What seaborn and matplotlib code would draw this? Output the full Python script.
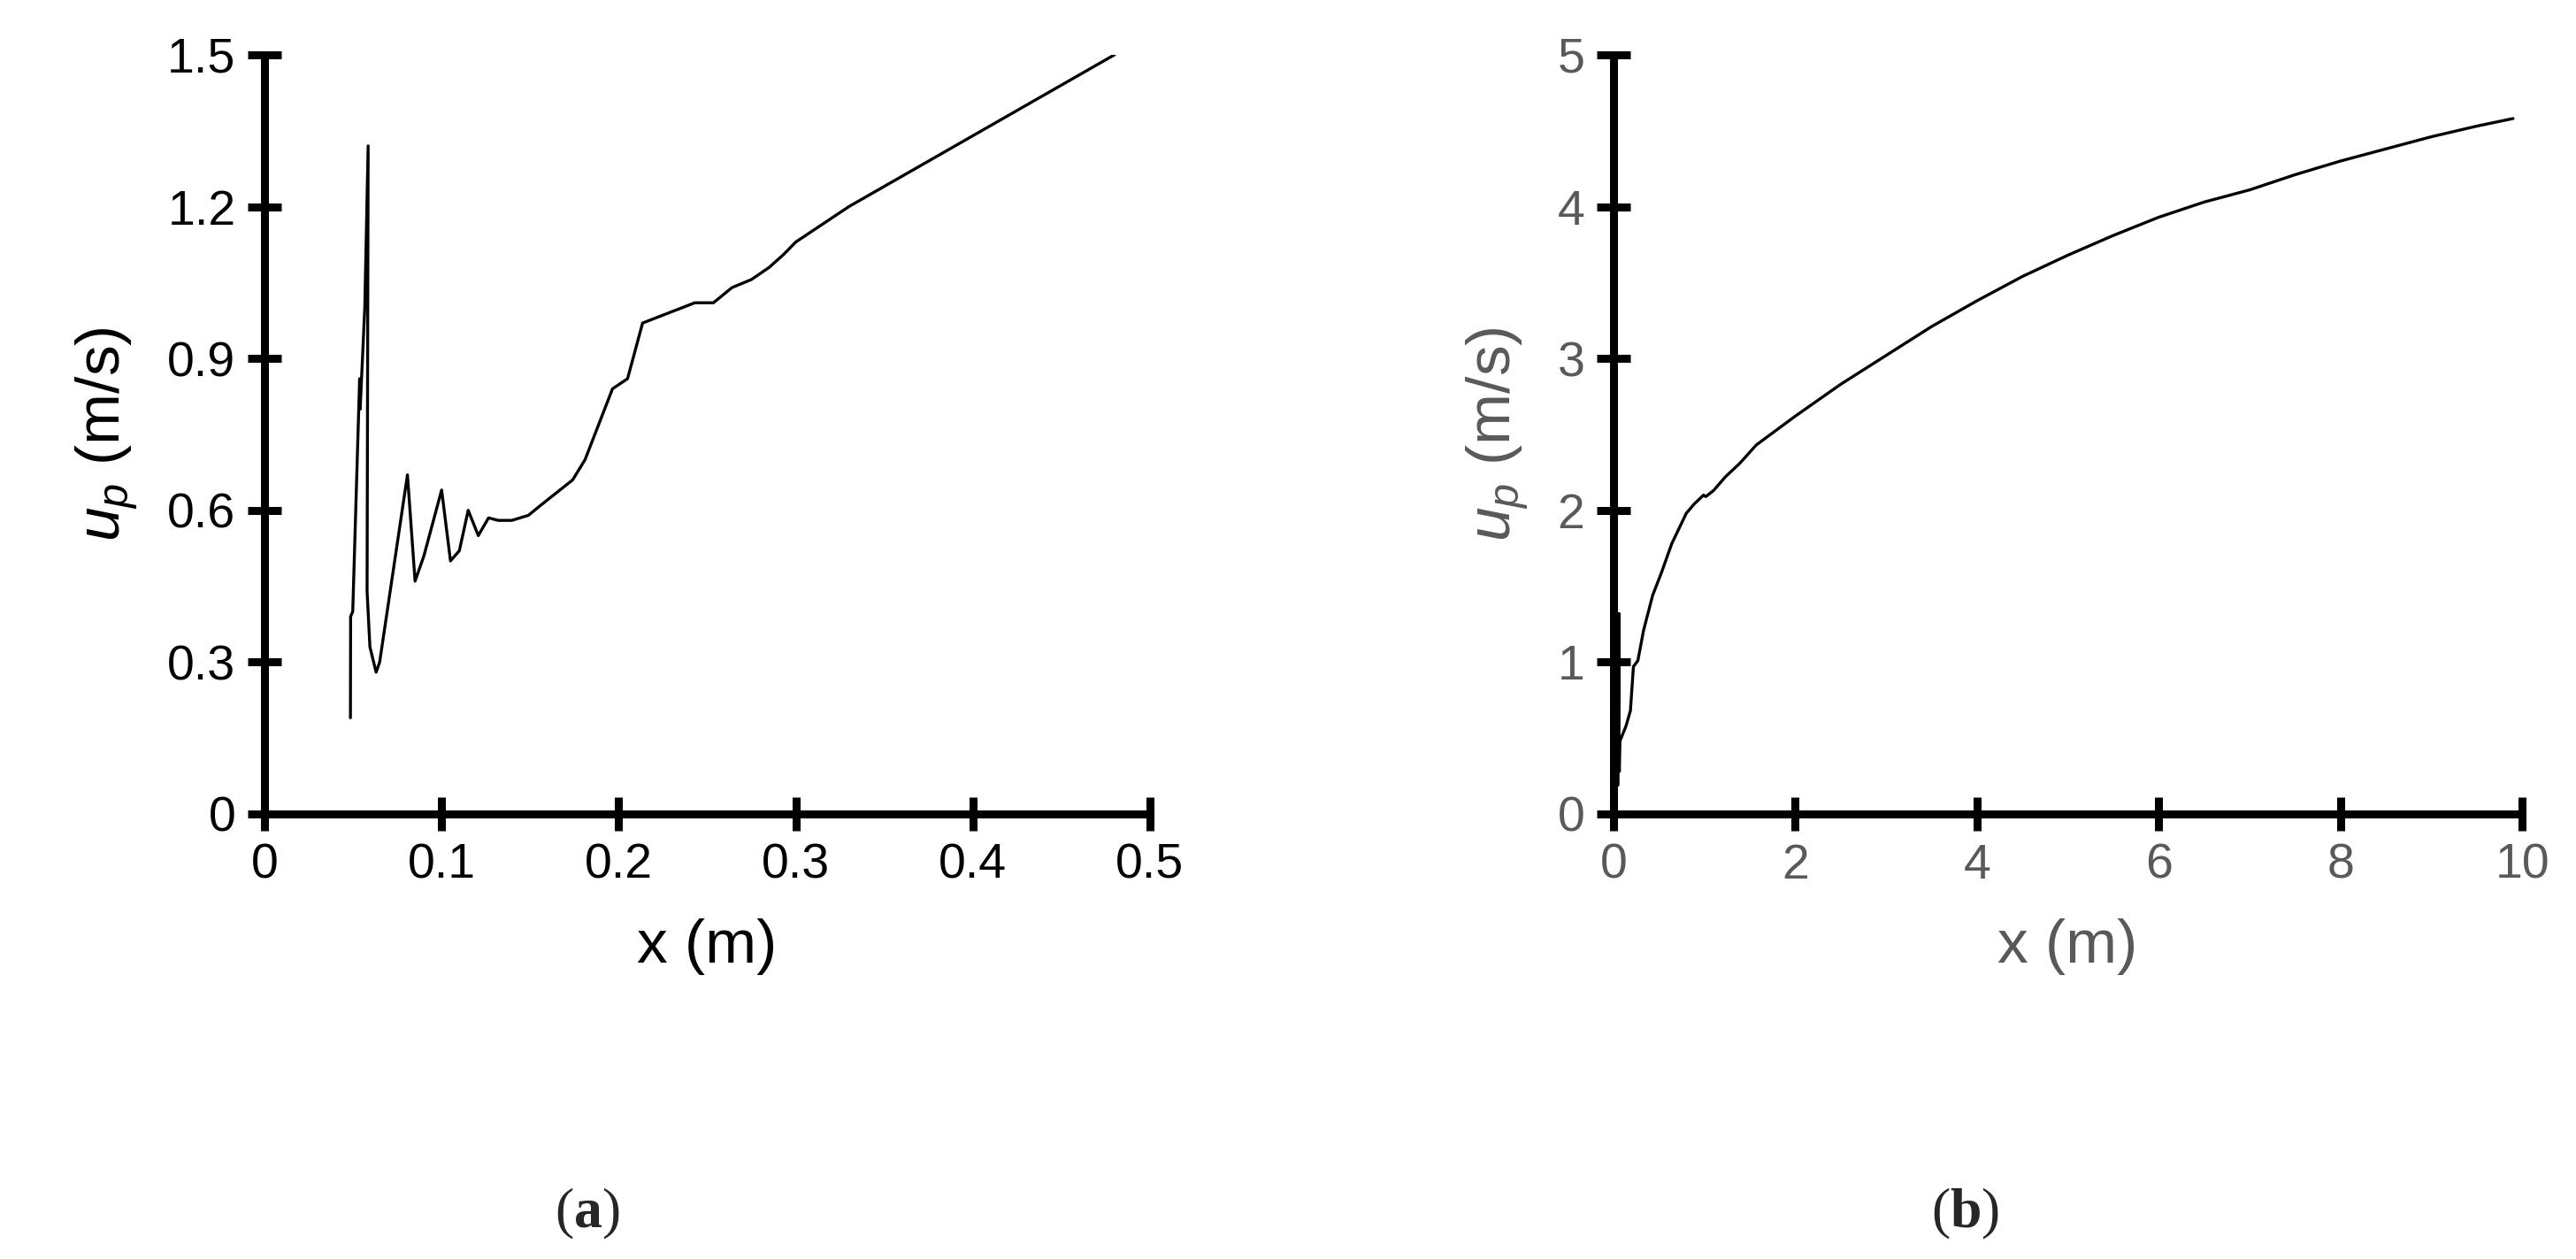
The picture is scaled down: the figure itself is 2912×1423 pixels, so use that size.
import matplotlib
matplotlib.use("Agg")
import matplotlib.pyplot as plt
import seaborn as sns
import pandas as pd

sns.set_theme(style="white")
plt.rcParams['font.family'] = ['Liberation Sans', 'DejaVu Sans']
plt.rcParams['mathtext.fontset'] = 'custom'
plt.rcParams['mathtext.it'] = 'Liberation Sans:italic'
plt.rcParams['mathtext.rm'] = 'Liberation Sans'
plt.rcParams['mathtext.bf'] = 'Liberation Serif:bold'

# panel (a) data
xa = [0.0485, 0.0486, 0.0498, 0.0537, 0.0540, 0.0566, 0.0585, 0.0579, 0.0595, 0.063, 0.065,
      0.0807, 0.085, 0.090, 0.100, 0.105, 0.110, 0.115, 0.1207, 0.1265, 0.132, 0.1396, 0.149,
      0.156, 0.174, 0.181, 0.1965, 0.205, 0.2135, 0.243, 0.2535, 0.264, 0.275, 0.285, 0.293,
      0.30, 0.33, 0.355, 0.40, 0.48]
ya = [0.19, 0.39, 0.40, 0.86, 0.80, 1.00, 1.32, 0.44, 0.33, 0.28, 0.30,
      0.67, 0.46, 0.51, 0.64, 0.50, 0.52, 0.60, 0.55, 0.585, 0.58, 0.58, 0.59,
      0.61, 0.66, 0.70, 0.84, 0.86, 0.97, 1.01, 1.01, 1.04, 1.056, 1.08, 1.105,
      1.13, 1.20, 1.25, 1.34, 1.50]

# panel (b) data
xb = [0.0, 0.02, 0.0485, 0.0498, 0.0537, 0.0566, 0.0585, 0.0595, 0.063, 0.07, 0.137, 0.185,
      0.218, 0.267, 0.33, 0.43, 0.527, 0.64, 0.80, 0.885, 0.99, 1.015, 1.1, 1.23, 1.39, 1.57,
      2.0, 2.5, 3.0, 3.5, 4.0, 4.5, 5.0, 5.5, 6.0, 6.5, 7.0, 7.5, 8.0, 8.5, 9.0, 9.5, 9.9]
yb = [0.0, 0.2, 0.19, 0.40, 0.86, 1.00, 1.32, 0.33, 0.28, 0.48, 0.58, 0.68,
      0.97, 1.01, 1.21, 1.44, 1.59, 1.78, 1.98, 2.04, 2.10, 2.09, 2.13, 2.22, 2.31, 2.43,
      2.62, 2.83, 3.02, 3.21, 3.38, 3.54, 3.68, 3.81, 3.93, 4.03, 4.11, 4.21, 4.30, 4.38, 4.46, 4.53, 4.58]

fig = plt.figure(figsize=(29.12, 14.23), dpi=100)
axa = fig.add_axes([0.1027, 0.3535, 0.3437, 0.603])
axb = fig.add_axes([0.6264, 0.3535, 0.3527, 0.603])

sns.lineplot(x=xa, y=ya, ax=axa, sort=False, color='black', lw=2.4, estimator=None)
sns.lineplot(x=xb, y=yb, ax=axb, sort=False, color='black', lw=2.4, estimator=None)

def style(ax, xlim, ylim, xt, yt, col):
    ax.set_xlim(*xlim); ax.set_ylim(*ylim)
    ax.set_xticks(xt); ax.set_yticks(yt)
    for s in ['top', 'right']:
        ax.spines[s].set_visible(False)
    for s in ['left', 'bottom']:
        ax.spines[s].set_linewidth(6.5)
        ax.spines[s].set_color('black')
    ax.tick_params(bottom=True, left=True, direction='inout', length=27, width=6.5,
                   color='black', labelsize=40, labelcolor=col)
    ax.tick_params(axis='x', pad=10)
    ax.tick_params(axis='y', pad=10)
    ax.set_xlabel('x (m)', fontsize=50, color=col, labelpad=24)
    ax.set_ylabel(r'$u_p$ (m/s)', fontsize=50, color=col, labelpad=22)

style(axa, (0, 0.5), (0, 1.5), [0, 0.1, 0.2, 0.3, 0.4, 0.5], [0, 0.3, 0.6, 0.9, 1.2, 1.5], 'black')
axa.set_xticklabels(['0', '0.1', '0.2', '0.3', '0.4', '0.5'])
axa.set_yticklabels(['0', '0.3', '0.6', '0.9', '1.2', '1.5'])
style(axb, (0, 10), (0, 5), [0, 2, 4, 6, 8, 10], [0, 1, 2, 3, 4, 5], '#595959')

fig.text(0.228, 0.036, r'($\mathbf{a}$)', family='Liberation Serif', fontsize=46, ha='center', va='center')
fig.text(0.763, 0.036, r'($\mathbf{b}$)', family='Liberation Serif', fontsize=46, ha='center', va='center')

fig.savefig('out.png', dpi=100, facecolor='white')
